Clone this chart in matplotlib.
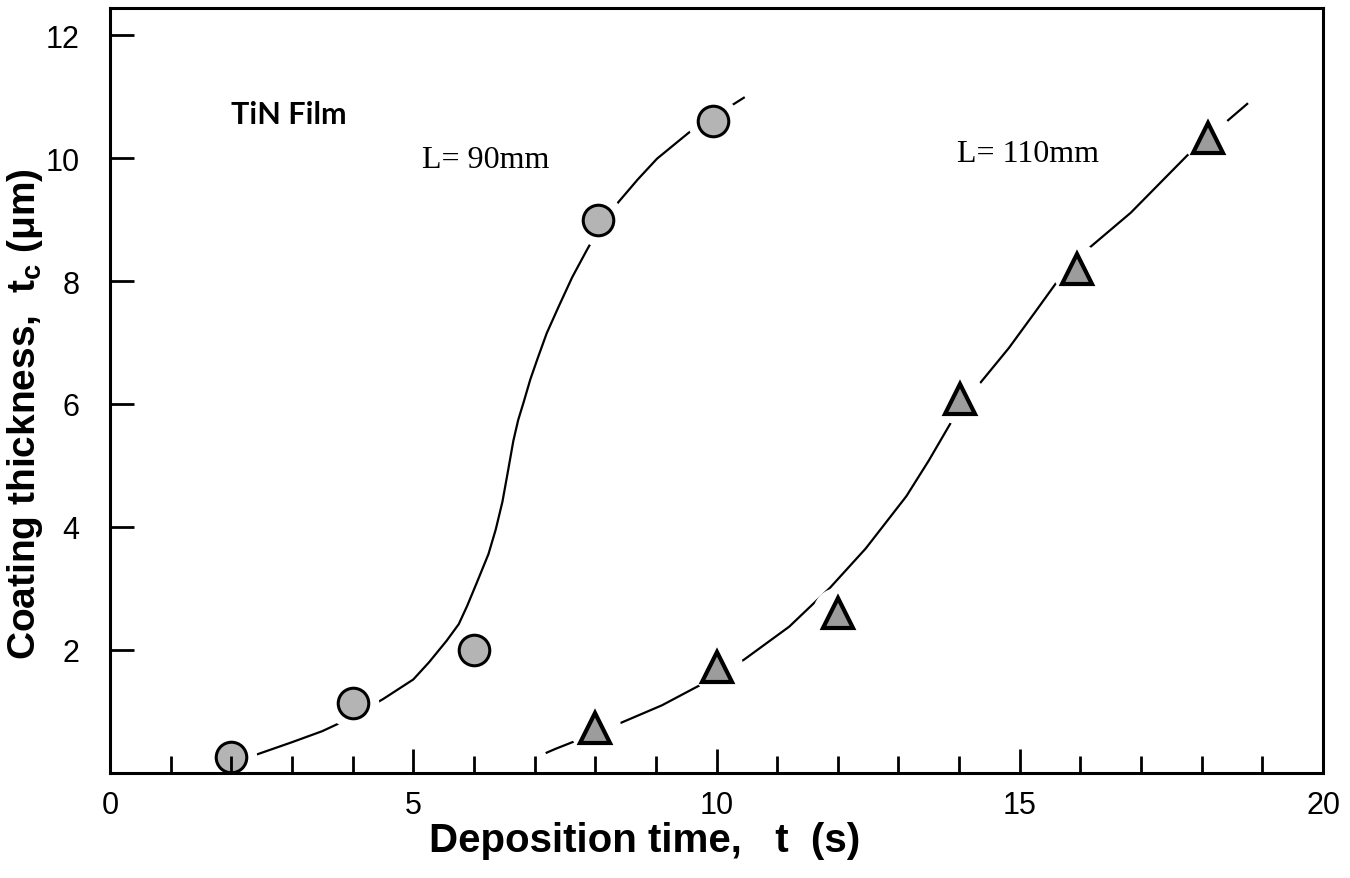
import matplotlib
matplotlib.use('Agg')
import matplotlib.pyplot as plt
from matplotlib.ticker import MultipleLocator

# ---- data --------------------------------------------------------------
# measured points
t_90 = [2.0, 4.0, 6.0, 8.05, 9.95]
tc_90 = [0.26, 1.14, 2.0, 9.0, 10.6]

t_110 = [8.0, 10.0, 12.0, 14.02, 15.95, 18.1]
tc_110 = [0.73, 1.72, 2.6, 6.08, 8.2, 10.32]

# hand drawn trend curves (traced)
curve_t_90 = [2.0, 2.36, 3.0, 3.5, 3.87, 4.5, 5.0, 5.26, 5.55, 5.75, 5.89,
              6.05, 6.24, 6.36, 6.47, 6.56, 6.65, 6.73, 6.82, 6.93, 7.05,
              7.2, 7.4, 7.62, 7.86, 8.1, 8.38, 8.7, 9.02, 9.54, 10.0, 10.45]
curve_tc_90 = [0.2, 0.28, 0.5, 0.68, 0.85, 1.2, 1.52, 1.8, 2.15, 2.42, 2.72,
               3.1, 3.56, 3.96, 4.41, 4.9, 5.4, 5.74, 6.03, 6.4, 6.74,
               7.15, 7.59, 8.06, 8.5, 8.92, 9.28, 9.65, 9.99, 10.41, 10.7, 10.98]

curve_t_110 = [7.2, 7.34, 8.34, 9.1, 9.77, 10.45, 11.2, 11.87, 12.46, 13.13,
               13.5, 13.89, 14.23, 14.82, 15.25, 15.66, 16.16, 16.83, 17.3,
               17.76, 18.3, 18.75]
curve_tc_110 = [0.33, 0.39, 0.78, 1.1, 1.45, 1.84, 2.38, 3.01, 3.65, 4.5,
                5.08, 5.74, 6.2, 6.91, 7.49, 8.05, 8.55, 9.11, 9.58,
                10.04, 10.5, 10.88]

SANS = ['Liberation Sans', 'DejaVu Sans']
SERIF = ['Liberation Serif', 'DejaVu Serif']

fig = plt.figure(figsize=(13.5, 8.79), dpi=100)
ax = fig.add_axes([0.0815, 0.1195, 0.8985, 0.8703])
ax.set_axisbelow(False)

# trend curves
ax.plot(curve_t_90, curve_tc_90, color='black', lw=1.6, zorder=1)
ax.plot(curve_t_110, curve_tc_110, color='black', lw=1.6, zorder=1)

# white halo so the curves break around the symbols
ax.plot(t_90, tc_90, 'o', ms=36, mfc='white', mec='white', zorder=1.5, clip_on=False)
ax.plot(t_110, tc_110, 'o', ms=36, mfc='white', mec='white', zorder=1.5, clip_on=False)

ax.plot(t_90, tc_90, 'o', ms=22, mfc='#b4b4b4', mec='black', mew=2.2,
        zorder=2, clip_on=False)
ax.plot(t_110, tc_110, '^', ms=21, mfc='#9c9c9c', mec='black', mew=3,
        zorder=2, clip_on=False)

ax.set_xlim(0, 20)
ax.set_ylim(0, 12.44)
ax.xaxis.set_major_locator(MultipleLocator(5))
ax.xaxis.set_minor_locator(MultipleLocator(1))
ax.set_yticks([2, 4, 6, 8, 10, 12])
ax.tick_params(axis='both', which='both', direction='in', top=False, right=False,
               width=2, color='black', labelsize=22)
ax.tick_params(axis='x', which='major', length=17, pad=12)
ax.tick_params(axis='x', which='minor', length=12)
ax.tick_params(axis='y', which='major', length=17, pad=22)
for lab in ax.get_xticklabels() + ax.get_yticklabels():
    lab.set_fontfamily(SANS)
for s in ax.spines.values():
    s.set_linewidth(2.2)

ax.set_xlabel('Deposition time,   t  (s)', fontfamily=SANS, fontweight='bold',
              fontsize=29, va='center')
ax.xaxis.set_label_coords(0.441, -0.088)
ax.set_ylabel('Coating thickness,  t$_\\mathregular{c}$ (\u03bcm)', fontfamily=SANS,
              fontweight='bold', fontsize=28, va='center')
ax.yaxis.set_label_coords(-0.07, 0.47)

ax.text(2.94, 10.72, 'TiN Film', fontfamily=['Lato', 'DejaVu Sans'], fontweight='bold',
        fontsize=22, ha='center', va='center')
ax.text(6.2, 9.98, 'L= 90mm', fontfamily=SERIF,
        fontsize=23, ha='center', va='center')
ax.text(15.13, 10.07, 'L= 110mm', fontfamily=SERIF,
        fontsize=23, ha='center', va='center')

fig.savefig('out.png', dpi=100)
